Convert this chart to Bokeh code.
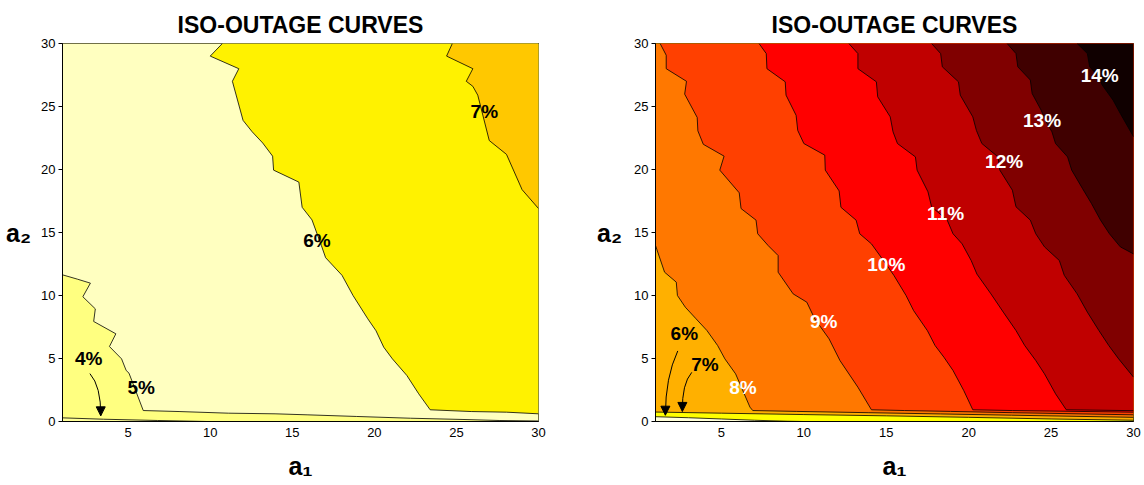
from bokeh.plotting import figure
from bokeh.layouts import row
from bokeh.models import Label, Range1d, FixedTicker, Arrow, NormalHead
from bokeh.embed import file_html
from bokeh.resources import INLINE

FONT = "Liberation Sans"
X0, X1, Y0, Y1 = 1, 30, 0, 30

# ---------------- left chart: iso-outage contours 4% .. 7% ----------------
left_below_color = "#FFFF99"
left_levels = ["4%", "5%", "6%", "7%"]
left_colors = ["#FFFF80", "#FFFFC0", "#FFF200", "#FFC800"]

left_c4_x = [1.0, 3.5, 6.8, 9.8]
left_c4_y = [0.29, 0.18, 0.08, 0.0]

left_c5_x = [1.0, 1.9, 2.7, 2.24, 3.0, 2.9, 4.25, 3.86, 4.6, 4.88, 5.05, 5.92,
             8.1, 11.1, 13.95, 15.9, 18.9, 22.2, 25.4, 27.6, 30.0]
left_c5_y = [11.64, 11.3, 10.98, 9.9, 8.94, 7.94, 6.96, 5.95, 4.97, 4.05, 3.84, 0.87,
             0.79, 0.66, 0.61, 0.53, 0.4, 0.26, 0.16, 0.08, 0.04]

left_c6_x = [10.74, 10.0, 11.74, 11.35, 12.0, 12.55, 13.2, 13.8, 13.86, 15.4, 15.6, 16.2,
             16.77, 17.03, 18.03, 18.7, 19.6, 20.1, 20.57, 21.1, 21.98, 22.7, 23.4,
             25.9, 28.05, 30.0]
left_c6_y = [30.0, 29.0, 28.0, 27.0, 23.9, 23.0, 22.1, 21.06, 19.95, 19.0, 17.0, 16.0,
             13.97, 13.0, 11.6, 10.0, 8.15, 7.2, 5.9, 4.97, 3.65, 2.2, 0.93,
             0.79, 0.74, 0.61]

left_c7_x = [24.75, 24.4, 26.0, 25.6, 26.0, 26.3, 27.0, 28.05, 29.0, 30.0]
left_c7_y = [30.0, 29.0, 28.0, 27.0, 26.6, 25.9, 22.3, 21.2, 18.4, 16.9]

left_contours = [(left_c4_x, left_c4_y), (left_c5_x, left_c5_y),
                 (left_c6_x, left_c6_y), (left_c7_x, left_c7_y)]

# ---------------- right chart: iso-outage contours 6% .. 14% ----------------
right_below_color = "#FFFFD8"
right_levels = ["6%", "7%", "8%", "9%", "10%", "11%", "12%", "13%", "14%"]
right_colors = ["#FFFF00", "#FFB000", "#FF7800", "#FF4000", "#FF0000",
                "#C00000", "#800000", "#400000", "#100000"]

right_c6_x = [1.0, 3.0, 5.0, 7.0, 9.0, 10.0]
right_c6_y = [0.38, 0.3, 0.2, 0.1, 0.02, 0.0]

right_c7_x = [1.0, 5.0, 10.0, 15.0, 20.0, 25.0, 30.0]
right_c7_y = [0.75, 0.66, 0.55, 0.45, 0.33, 0.2, 0.1]

right_c8_x = [1.0, 1.55, 2.26, 2.33, 2.81, 3.46, 4.12, 4.77, 5.21, 5.86, 6.73, 6.9,
              9.57, 13.9, 18.3, 22.6, 30.0]
right_c8_y = [13.97, 11.85, 11.06, 10.0, 9.07, 8.15, 7.22, 6.03, 4.97, 3.78, 1.14, 0.87,
              0.8, 0.7, 0.6, 0.5, 0.33]

right_c9_x = [1.28, 1.65, 1.65, 2.88, 2.77, 3.53, 3.57, 3.9, 5.16, 4.9, 6.08, 6.19, 7.1,
              7.2, 7.83, 8.44, 8.44, 9.35, 10.18, 10.66, 11.53, 12.19, 13.28, 14.1,
              16.1, 18.9, 22.65, 30.0]
right_c9_y = [30.0, 29.07, 28.0, 27.0, 25.98, 24.13, 23.07, 22.0, 21.06, 19.95, 18.15,
              16.9, 15.98, 14.9, 13.97, 13.17, 11.85, 10.13, 9.47, 8.15, 6.56, 4.84, 2.72,
              0.93, 0.87, 0.8, 0.7, 0.53]

right_c10_x = [7.28, 7.72, 7.76, 8.87, 8.92, 9.53, 9.63, 10.0, 11.27, 11.3, 12.14, 12.25,
               13.17, 13.39, 14.1, 14.9, 15.46, 16.2, 16.66, 17.5, 17.96, 18.5, 19.05,
               19.7, 20.25, 22.65, 30.0]
right_c10_y = [30.0, 29.2, 28.0, 26.96, 25.9, 24.3, 23.1, 22.06, 21.14, 19.95, 18.3, 17.0,
               15.98, 14.9, 14.1, 12.65, 11.6, 10.0, 8.8, 7.2, 6.03, 5.1, 4.05,
               2.46, 0.93, 0.87, 0.74]

right_c11_x = [12.73, 13.28, 13.28, 14.4, 14.48, 15.24, 15.41, 15.68, 16.77, 16.87, 17.53,
               17.75, 18.7, 19.05, 19.6, 20.15, 20.5, 21.35, 22.1, 22.87, 23.4, 24.07,
               24.6, 25.27, 25.92, 30.0]
right_c11_y = [30.0, 29.2, 28.0, 26.96, 25.77, 24.18, 22.99, 22.06, 21.0, 19.95, 18.23,
               17.04, 15.98, 14.9, 14.1, 12.78, 11.7, 10.13, 8.68, 7.22, 6.03, 4.84,
               3.78, 2.2, 0.93, 0.86]

right_c12_x = [17.75, 18.3, 18.4, 19.38, 19.49, 20.25, 20.47, 20.8, 21.78, 21.89, 22.65,
               22.87, 23.74, 24.07, 24.6, 25.5, 25.8, 26.58, 27.2, 27.9, 28.5, 29.1, 30.0]
right_c12_y = [30.0, 29.2, 28.15, 26.96, 25.9, 24.18, 23.1, 22.06, 21.0, 19.95, 18.36,
               17.04, 15.98, 14.9, 13.86, 12.78, 11.6, 10.13, 8.68, 7.22, 6.03, 4.97, 3.52]

right_c13_x = [22.33, 22.87, 22.98, 23.74, 23.85, 24.4, 24.7, 25.05, 25.27, 26.0, 26.25,
               26.9, 27.45, 28.0, 28.54, 29.2, 30.0]
right_c13_y = [30.0, 29.2, 28.15, 27.1, 26.03, 24.7, 23.78, 22.99, 22.06, 21.0, 19.95,
               18.5, 17.3, 15.98, 14.9, 13.86, 13.3]

right_c14_x = [26.58, 27.2, 27.34, 27.9, 28.1, 28.76, 29.2, 30.0]
right_c14_y = [30.0, 29.2, 28.15, 27.35, 26.7, 25.5, 24.44, 22.6]

right_contours = [(right_c6_x, right_c6_y), (right_c7_x, right_c7_y),
                  (right_c8_x, right_c8_y), (right_c9_x, right_c9_y),
                  (right_c10_x, right_c10_y), (right_c11_x, right_c11_y),
                  (right_c12_x, right_c12_y), (right_c13_x, right_c13_y),
                  (right_c14_x, right_c14_y)]

axis_ticks_x = [5, 10, 15, 20, 25, 30]
axis_ticks_y = [0, 5, 10, 15, 20, 25, 30]


def perimeter_pos(x, y):
    """Counter-clockwise distance along the frame, starting at the bottom-left corner."""
    w, h = X1 - X0, Y1 - Y0
    eps = 1e-9
    if abs(y - Y0) < eps:
        return x - X0
    if abs(x - X1) < eps:
        return w + (y - Y0)
    if abs(y - Y1) < eps:
        return w + h + (X1 - x)
    return 2 * w + h + (Y1 - y)


def upper_region(xs, ys):
    """Polygon of the area above/right of a contour running from the top/left edge
    to the bottom/right edge, closed along the frame."""
    w, h = X1 - X0, Y1 - Y0
    total = 2 * (w + h)
    corners = [(X1, Y0, w), (X1, Y1, w + h), (X0, Y1, 2 * w + h), (X0, Y0, total)]
    s_end = perimeter_pos(xs[-1], ys[-1])
    s_start = perimeter_pos(xs[0], ys[0])
    target = s_start if s_start > s_end else s_start + total
    px, py = list(xs), list(ys)
    for cx, cy, cs in corners + [(a, b, c + total) for a, b, c in corners]:
        if s_end < cs < target:
            px.append(cx)
            py.append(cy)
    return px, py


def make_panel(contours, colors, below_color, left_border, frame_w, right_border,
               ylabel_standoff):
    p = figure(width=left_border + frame_w + right_border, height=485,
               output_backend="svg", toolbar_location=None,
               x_range=Range1d(X0, X1), y_range=Range1d(Y0, Y1),
               min_border_left=left_border, min_border_right=right_border,
               min_border_top=43, min_border_bottom=64,
               title="ISO-OUTAGE CURVES")
    p.title.align = "center"
    p.title.text_font = FONT
    p.title.text_font_style = "bold"
    p.title.text_font_size = "23px"
    p.title.text_color = "black"
    p.title.standoff = 11
    p.background_fill_color = below_color
    p.border_fill_color = "white"
    p.outline_line_color = "black"
    p.outline_line_width = 1
    p.grid.visible = False

    for (xs, ys), col in zip(contours, colors):
        px, py = upper_region(xs, ys)
        p.patch(px, py, fill_color=col, line_color=None)
    for xs, ys in contours:
        p.line(xs, ys, line_color="black", line_width=0.8)

    p.xaxis.ticker = FixedTicker(ticks=axis_ticks_x)
    p.yaxis.ticker = FixedTicker(ticks=axis_ticks_y)
    for ax in (p.xaxis, p.yaxis):
        ax.major_label_text_font = FONT
        ax.major_label_text_font_size = "13px"
        ax.major_label_text_color = "black"
        ax.axis_line_color = "black"
        ax.minor_tick_line_color = None
        ax.major_tick_in = 0
        ax.axis_label_text_font = FONT
        ax.axis_label_text_font_style = "bold"
        ax.axis_label_text_font_size = "25px"
        ax.axis_label_text_color = "black"
    p.xaxis.major_tick_out = 0
    p.xaxis.major_label_standoff = 6
    p.xaxis.axis_label = "a\u2081"
    p.xaxis.axis_label_standoff = 12
    p.yaxis.major_tick_out = 4
    p.yaxis.major_label_standoff = 3
    p.yaxis.axis_label = "a\u2082"
    p.yaxis.axis_label_orientation = "horizontal"
    p.yaxis.axis_label_standoff = ylabel_standoff
    return p


def level_label(p, x, y, text, color):
    p.add_layout(Label(x=x, y=y, text=text, text_align="center", text_baseline="middle",
                       text_font=FONT, text_font_style="bold", text_font_size="19px",
                       text_color=color))


def pointer(p, x0, y0, cx, cy, x1, y1):
    p.quadratic(x0=[x0], y0=[y0], cx=[cx], cy=[cy], x1=[x1], y1=[y1],
                line_color="black", line_width=1)
    p.add_layout(Arrow(end=NormalHead(size=9, fill_color="black", line_color="black"),
                       x_start=x1, y_start=y1 + 0.4, x_end=x1, y_end=y1,
                       line_alpha=0))


left = make_panel(left_contours, left_colors, left_below_color, 62, 476, 34, 7)
level_label(left, 26.7, 24.6, "7%", "black")
level_label(left, 16.5, 14.4, "6%", "black")
level_label(left, 5.8, 2.7, "5%", "black")
level_label(left, 2.6, 5.0, "4%", "black")
pointer(left, 2.67, 3.8, 3.35, 2.8, 3.33, 0.45)

right = make_panel(right_contours, right_colors, right_below_color, 83, 478, 11, 9)
for (lx, ly, txt) in [(27.95, 27.5, "14%"), (24.45, 23.9, "13%"), (22.15, 20.6, "12%"),
                      (18.6, 16.5, "11%"), (15.0, 12.5, "10%"), (11.2, 7.9, "9%"),
                      (6.3, 2.7, "8%")]:
    level_label(right, lx, ly, txt, "white")
level_label(right, 2.75, 7.0, "6%", "black")
level_label(right, 4.0, 4.5, "7%", "black")
pointer(right, 2.35, 5.6, 1.6, 3.5, 1.6, 0.5)
pointer(right, 3.2, 3.9, 2.6, 3.0, 2.63, 0.8)

layout = row(left, right)
open("out.html", "w").write(file_html(layout, INLINE))
